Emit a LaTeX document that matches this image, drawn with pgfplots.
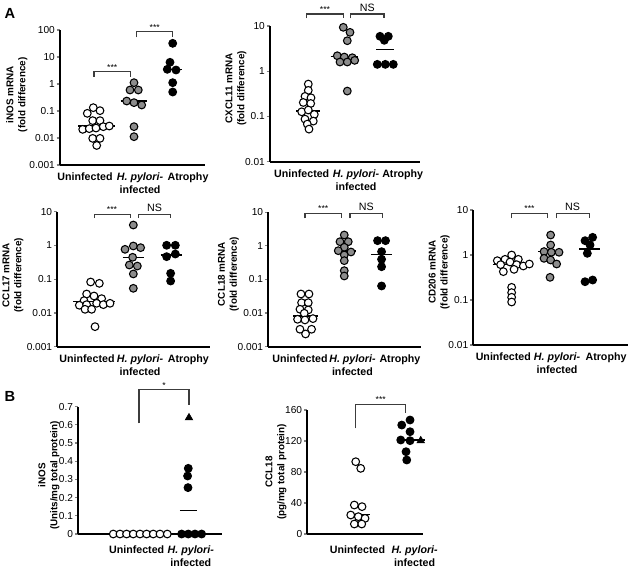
\documentclass[border=0pt]{standalone}
\usepackage{fontspec}
\setmainfont{Liberation Sans}
\usepackage{pgfplots}
\pgfplotsset{compat=1.18}
\definecolor{dotgray}{RGB}{140,140,140}
\definecolor{brk}{RGB}{60,60,60}
\pgfplotsset{
  panel/.style={scale only axis, clip=false, anchor=south west,
    axis lines=left, axis line style={-, line width=1.3pt},
    tick align=outside, major tick length=2.5pt,
    ytick style={line width=0.9pt}, xtick style={draw=none},
    xticklabel style={font=\fontsize{8}{9.5}\selectfont\bfseries, align=center},
    yticklabel style={font=\fontsize{7.6}{9}\selectfont, inner xsep=1.2pt},
    label style={font=\fontsize{7.4}{9}\selectfont\bfseries},
    ylabel style={align=center, anchor=center}},
  wdot/.style={only marks, mark=*, mark size=2.9pt, mark options={draw=black, fill=white, line width=0.8pt}},
  gdot/.style={only marks, mark=*, mark size=2.9pt, mark options={draw=black, fill=dotgray, line width=0.8pt}},
  bdot/.style={only marks, mark=*, mark size=2.9pt, mark options={draw=black, fill=black, line width=0.8pt}},
  med/.style={black, line width=1.1pt},
  brak/.style={brk, line width=0.8pt},
}
\newcommand{\stars}{\fontsize{6.5}{7}\selectfont ***}
\begin{document}
\begin{tikzpicture}
\useasboundingbox (0,0) rectangle (473.25pt,-426pt);
\node[font=\fontsize{11}{13}\selectfont\bfseries] at (7.5pt,-9.75pt) {A};
\node[font=\fontsize{11}{13}\selectfont\bfseries] at (7.5pt,-297pt) {B};

% A1 iNOS mRNA
\begin{axis}[panel, ymode=log, yminorticks=false, at={(45pt,-123.75pt)}, width=108.75pt, height=101.25pt,
  xmin=0, xmax=145, ymin=0.001, ymax=100,
  ytick={0.001,0.01,0.1,1,10,100}, yticklabels={0.001,0.01,0.1,1,10,100},
  xtick={25,80,128}, xticklabels={Uninfected,{\textit{H. pylori-}\\infected},Atrophy},
  ylabel={iNOS mRNA\\(fold difference)}, ylabel style={at={(axis description cs:-0.297,0.52)}}]
\addplot[wdot] coordinates {(33.3,0.133) (40,0.103) (27.3,0.082) (32.7,0.044) (40,0.044) (22.7,0.0209) (29.3,0.0222) (36,0.0234) (43.3,0.0263) (49.3,0.0278) (32.7,0.0097) (40,0.0097) (36.7,0.0053)};
\addplot[gdot] coordinates {(74,1.12) (70,0.6) (78.3,0.6) (66.7,0.234) (74,0.204) (81.7,0.167) (74,0.0263) (74,0.0112)};
\addplot[bdot] coordinates {(112.7,32.1) (110,6.37) (107.3,3.5) (116,3.3) (112.7,1.12) (112.7,0.506)};
\addplot[med] coordinates {(18.3,0.0278) (55,0.0278)};
\addplot[med] coordinates {(60.7,0.234) (87.3,0.234)};
\addplot[med] coordinates {(104,3.5) (121.7,3.5)};
\addplot[brak] coordinates {(34,1.82) (34,2.86) (70.7,2.86) (70.7,1.82)};
\addplot[brak] coordinates {(76.7,53.7) (76.7,86.5) (112.7,86.5) (112.7,53.7)};
\node[anchor=south, inner sep=1pt] at (axis cs:52.3,2.86) {\stars};
\node[anchor=south, inner sep=1pt] at (axis cs:94.7,86.5) {\stars};
\end{axis}

% A2 CXCL11 mRNA
\begin{axis}[panel, ymode=log, yminorticks=false, at={(202.5pt,-121.3pt)}, width=112.5pt, height=101.8pt,
  xmin=0, xmax=150, ymin=0.01, ymax=10,
  ytick={0.01,0.1,1,10}, yticklabels={0.01,0.1,1,10},
  xtick={31.7,86,132.7}, xticklabels={Uninfected,{\textit{H. pylori-}\\infected},Atrophy},
  ylabel={CXCL11 mRNA\\(fold difference)}, ylabel style={at={(axis description cs:-0.227,0.54)}}]
\addplot[wdot] coordinates {(38.3,0.521) (38.3,0.378) (35,0.278) (41,0.259) (33.3,0.204) (40.7,0.194) (31.7,0.127) (38.3,0.139) (44.3,0.111) (35,0.0875) (43.3,0.0791) (37.3,0.0679) (39,0.0526)};
\addplot[gdot] coordinates {(73.3,9.35) (80,7.24) (77.3,4.73) (67.3,2.20) (74.3,2.06) (82.3,1.99) (70,1.60) (77.3,1.60) (84.7,1.74) (77.3,0.365)};
\addplot[bdot] coordinates {(110,5.92) (118.3,5.92) (114.3,4.83) (107.3,1.42) (115.3,1.42) (123.3,1.42)};
\addplot[med] coordinates {(26,0.132) (50,0.132)};
\addplot[med] coordinates {(60.7,2.09) (88.3,2.09)};
\addplot[med] coordinates {(106,3.05) (124,3.05)};
\addplot[brak] coordinates {(36.7,14.8) (36.7,18.4) (73.3,18.4) (73.3,14.8)};
\addplot[brak] coordinates {(80.7,14.8) (80.7,18.4) (114,18.4) (114,14.8)};
\node[anchor=south, inner sep=1pt] at (axis cs:55,18.4) {\stars};
\node[anchor=south, inner sep=1.5pt, font=\fontsize{8}{9}\selectfont] at (axis cs:97.3,18.4) {NS};
\end{axis}

% A3 CCL17 mRNA
\begin{axis}[panel, ymode=log, yminorticks=false, at={(43pt,-260pt)}, width=114.75pt, height=101.25pt,
  xmin=0, xmax=153, ymin=0.001, ymax=10,
  ytick={0.001,0.01,0.1,1,10}, yticklabels={0.001,0.01,0.1,1,10},
  xtick={29.7,82.7,131}, xticklabels={Uninfected,{\textit{H. pylori-}\\infected},Atrophy},
  ylabel={CCL17 mRNA\\(fold difference)}, ylabel style={at={(axis description cs:-0.29,0.53)}}]
\addplot[wdot] coordinates {(33.3,0.0826) (42,0.0753) (29.3,0.0364) (36.7,0.0318) (44.3,0.0265) (26.7,0.0231) (22,0.0169) (29.3,0.0176) (39.3,0.0193) (46,0.0176) (52.7,0.0193) (27.7,0.0128) (34.3,0.0128) (37.7,0.00392)};
\addplot[gdot] coordinates {(76,4.03) (67.7,0.767) (76,0.964) (83.3,0.859) (75.3,0.445) (72,0.263) (80,0.245) (76,0.143) (76,0.0536)};
\addplot[bdot] coordinates {(109.3,1.01) (118,1.01) (109.3,0.465) (118,0.557) (113.3,0.149) (113.3,0.0883)};
\addplot[med] coordinates {(16,0.0215) (57.7,0.0215)};
\addplot[med] coordinates {(65.3,0.435) (86.7,0.435)};
\addplot[med] coordinates {(103.3,0.52) (124.3,0.52)};
\addplot[brak] coordinates {(36.7,6.4) (36.7,8.5) (72.7,8.5) (72.7,6.4)};
\addplot[brak] coordinates {(81,6.4) (81,8.5) (113.3,8.5) (113.3,6.4)};
\node[anchor=south, inner sep=1pt] at (axis cs:54.7,8.5) {\stars};
\node[anchor=south, inner sep=1.5pt, font=\fontsize{8}{9}\selectfont] at (axis cs:97.2,8.5) {NS};
\end{axis}

% A4 CCL18 mRNA
\begin{axis}[panel, ymode=log, yminorticks=false, at={(201.2pt,-260pt)}, width=114.75pt, height=100.8pt,
  xmin=0, xmax=153, ymin=0.001, ymax=10,
  ytick={0.001,0.01,0.1,1,10}, yticklabels={0.001,0.01,0.1,1,10},
  xtick={31.7,84.2,131.7}, xticklabels={Uninfected,{\textit{H. pylori-}\\infected},Atrophy},
  ylabel={CCL18 mRNA\\(fold difference)}, ylabel style={at={(axis description cs:-0.26,0.54)}}]
\addplot[wdot] coordinates {(32.7,0.037) (40.7,0.037) (33.3,0.0204) (40,0.0204) (31.7,0.013) (40,0.0124) (36,0.00986) (29.3,0.00653) (36.7,0.00625) (44.7,0.00684) (31.7,0.0033) (43.3,0.0033) (37.3,0.00239)};
\addplot[gdot] coordinates {(76,2.11) (71.7,1.33) (80,1.33) (76,0.908) (70,0.719) (82.7,0.658) (76,0.536) (76,0.363) (76,0.183) (76,0.127)};
\addplot[bdot] coordinates {(109.3,1.43) (117.3,1.43) (113.3,0.673) (113.3,0.399) (113.3,0.240) (113.3,0.0641)};
\addplot[med] coordinates {(25,0.0082) (50,0.0082)};
\addplot[med] coordinates {(66,0.70) (87.3,0.70)};
\addplot[med] coordinates {(102.7,0.55) (124,0.55)};
\addplot[brak] coordinates {(36.7,6.6) (36.7,9.3) (73.3,9.3) (73.3,6.6)};
\addplot[brak] coordinates {(81.7,6.6) (81.7,9.3) (114.3,9.3) (114.3,6.6)};
\node[anchor=south, inner sep=1pt] at (axis cs:55,9.3) {\stars};
\node[anchor=south, inner sep=1.5pt, font=\fontsize{8}{9}\selectfont] at (axis cs:98,9.3) {NS};
\end{axis}

% A5 CD206 mRNA
\begin{axis}[panel, ymode=log, yminorticks=false, at={(355pt,-258.75pt)}, width=116.25pt, height=101.25pt,
  xmin=0, xmax=155, ymin=0.01, ymax=10,
  ytick={0.01,0.1,1,10}, yticklabels={0.01,0.1,1,10},
  xtick={30,83.7,132.7}, xticklabels={Uninfected,{\textit{H. pylori-}\\infected},Atrophy},
  ylabel={CD206 mRNA\\(fold difference)}, ylabel style={at={(axis description cs:-0.22,0.54)}}]
\addplot[wdot] coordinates {(38.3,1.0) (31.7,0.802) (45,0.802) (24,0.748) (36.7,0.698) (27.3,0.610) (43.3,0.610) (50,0.570) (56,0.631) (30,0.427) (40.7,0.480) (38.3,0.191) (38.3,0.146) (38.3,0.115) (38.3,0.0903)};
\addplot[gdot] coordinates {(77.3,2.78) (77.3,1.67) (70.7,1.19) (85.7,1.15) (78,1.15) (70.7,0.843) (77.3,0.774) (83.3,0.631) (76.7,0.319)};
\addplot[bdot] coordinates {(119.3,2.47) (111.7,2.08) (116.7,1.67) (114,1.09) (111.7,0.255) (119.3,0.278)};
\addplot[med] coordinates {(19.3,0.62) (59.3,0.62)};
\addplot[med] coordinates {(65,1.19) (90,1.19)};
\addplot[med] coordinates {(106,1.36) (126.7,1.36)};
\addplot[brak] coordinates {(38.3,6.53) (38.3,8.43) (74,8.43) (74,6.53)};
\addplot[brak] coordinates {(82.7,6.53) (82.7,8.43) (116,8.43) (116,6.53)};
\node[anchor=south, inner sep=1pt] at (axis cs:56.2,8.43) {\stars};
\node[anchor=south, inner sep=1.5pt, font=\fontsize{8}{9}\selectfont] at (axis cs:99.3,8.43) {NS};
\end{axis}

% B1 iNOS protein
\begin{axis}[panel, at={(58.7pt,-400.5pt)}, width=107.5pt, height=95.5pt,
  xmin=0, xmax=143.3, ymin=0, ymax=0.7,
  ytick={0,0.1,0.2,0.3,0.4,0.5,0.6,0.7}, yticklabels={0,0.1,0.2,0.3,0.4,0.5,0.6,0.7},
  xtick={58.4,112.5}, xticklabels={Uninfected,{\textit{H. pylori-}\\infected}},
  xticklabel style={yshift=-3pt},
  ylabel={iNOS\\(Units/mg total protein)}, ylabel style={at={(axis description cs:-0.205,0.46)}}]
\addplot[wdot] coordinates {(35,0) (41.7,0) (48.3,0) (55,0) (61.7,0) (68.3,0) (75,0) (81.7,0) (89,0)};
\addplot[bdot] coordinates {(103.3,0) (110,0) (116.7,0) (123.3,0) (110,0.361) (109.3,0.319) (109.7,0.255)};
\addplot[only marks, mark=triangle*, mark size=3.3pt, mark options={fill=black, draw=black}] coordinates {(110.7,0.639)};
\addplot[med] coordinates {(101.7,0.128) (118.3,0.128)};
\addplot[brak] coordinates {(60.7,0.608) (60.7,0.793) (110.7,0.793) (110.7,0.709)};
\node[anchor=south, inner sep=1pt, font=\fontsize{6.5}{7}\selectfont] at (axis cs:85.7,0.793) {*};
\end{axis}

% B2 CCL18 protein
\begin{axis}[panel, at={(230.5pt,-400.5pt)}, width=87pt, height=93pt,
  xmin=0, xmax=116, ymin=0, ymax=160,
  ytick={0,40,80,120,160}, yticklabels={0,40,80,120,160},
  xtick={50.2,107.3}, xticklabels={Uninfected,{\textit{H. pylori-}\\infected}},
  xticklabel style={yshift=-3pt},
  ylabel={CCL18\\(pg/mg total protein)}, ylabel style={at={(axis description cs:-0.27,0.50)}}]
\addplot[wdot] coordinates {(48.4,93.3) (53.4,84.7) (47,37.4) (54.7,35.3) (43.4,24.5) (51,22.4) (57.7,20.2) (47,12.9) (54.4,12.9)};
\addplot[bdot] coordinates {(102.7,147.1) (94.4,140.6) (102.7,132) (93.4,121.3) (102.7,120.4) (98.7,106.2) (99.4,95.5)};
\addplot[only marks, mark=triangle*, mark size=3.3pt, mark options={fill=black, draw=black}] coordinates {(113.4,120.4)};
\addplot[med] coordinates {(41,25.4) (62.7,25.4)};
\addplot[med] coordinates {(89.4,121.3) (117.7,121.3)};
\addplot[brak] coordinates {(48.4,136.3) (48.4,167.7) (98.4,167.7) (98.4,155.7)};
\node[anchor=south, inner sep=1pt] at (axis cs:73.4,167.7) {\stars};
\end{axis}
\end{tikzpicture}
\end{document}
